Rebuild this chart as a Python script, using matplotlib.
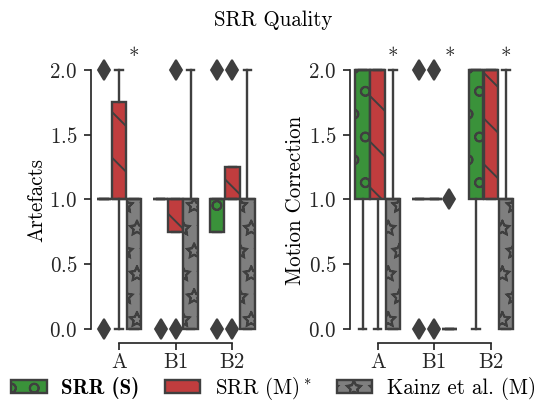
import colorsys
import matplotlib
matplotlib.use("Agg")
import matplotlib.pyplot as plt
import matplotlib.hatch as mhatch
from matplotlib.patches import Patch
from matplotlib.font_manager import FontProperties
import matplotlib.colors as mcolors

# hollow star hatch (as in the reference)
mhatch.Stars.filled = False

plt.rcParams['font.family'] = 'serif'
plt.rcParams['font.serif'] = ['cmr10']
plt.rcParams['mathtext.fontset'] = 'cm'
plt.rcParams['axes.formatter.use_mathtext'] = True
plt.rcParams['font.size'] = 11

# ---------------- data ----------------
categories = ['A', 'B1', 'B2']
methods = ['SRR (S)', 'SRR (M)$^*$', 'Kainz et al. (M)']
base_colors = ['tab:green', 'tab:red', 'tab:gray']
hatches = ['o', '\\', '*']

# box stats per category: (whislo, q1, med, q3, whishi)
art_srr_s = [(1, 1, 1, 1, 1), (1, 1, 1, 1, 1), (0.75, 0.75, 1, 1, 1)]
art_srr_s_fliers = [[0, 2], [0], [0, 2]]
art_srr_m = [(0, 1, 1, 1.75, 2), (0.75, 0.75, 1, 1, 1), (1, 1, 1, 1.25, 1.25)]
art_srr_m_fliers = [[], [0, 2], [0, 2]]
art_kainz = [(0, 0, 1, 1, 1), (0, 0, 1, 1, 2), (0, 0, 1, 1, 2)]
art_kainz_fliers = [[], [], []]
art_signif = [True, False, False]

mot_srr_s = [(0, 1, 2, 2, 2), (1, 1, 1, 1, 1), (0, 1, 2, 2, 2)]
mot_srr_s_fliers = [[], [0, 2], []]
mot_srr_m = [(0, 1, 2, 2, 2), (1, 1, 1, 1, 1), (1, 1, 2, 2, 2)]
mot_srr_m_fliers = [[], [0, 2], []]
mot_kainz = [(0, 0, 1, 1, 2), (0, 0, 0, 0, 0), (0, 0, 1, 1, 2)]
mot_kainz_fliers = [[], [1], []]
mot_signif = [True, True, True]

yticks = [0.0, 0.5, 1.0, 1.5, 2.0]


def desaturate(c, prop=0.75):
    r, g, b = mcolors.to_rgb(c)
    h, l, s = colorsys.rgb_to_hls(r, g, b)
    return colorsys.hls_to_rgb(h, l, s * prop)


colors = [desaturate(c) for c in base_colors]
line_col = '#3f3f3f'
lw = 1.25

DPI = 137
fig = plt.figure(figsize=(547 / DPI, 401 / DPI), dpi=DPI)
W, H = 547, 401
ax1 = fig.add_axes([90.75 / W, 58 / H, 169.75 / W, 286 / H])
ax2 = fig.add_axes([349.5 / W, 58 / H, 169.75 / W, 286 / H])

width = 0.8 / 3


def draw(ax, groups, signif, ylabel):
    for j, (boxes, fliers) in enumerate(groups):
        stats = []
        pos = []
        for i, (b, f) in enumerate(zip(boxes, fliers)):
            stats.append(dict(whislo=b[0], q1=b[1], med=b[2], q3=b[3], whishi=b[4], fliers=f))
            pos.append(i + (j - 1) * width)
        ax.bxp(stats, positions=pos, widths=width * 0.97, patch_artist=True,
               manage_ticks=False,
               boxprops=dict(facecolor=colors[j], edgecolor=line_col, linewidth=lw, hatch=hatches[j]),
               whiskerprops=dict(color=line_col, linewidth=lw),
               capprops=dict(color=line_col, linewidth=lw),
               medianprops=dict(color=line_col, linewidth=lw),
               flierprops=dict(marker='d', markerfacecolor=line_col, markeredgecolor=line_col,
                               markersize=7.5, linestyle='none'))
    for i, s in enumerate(signif):
        if s:
            ax.text(i + width, 2.05, '*', ha='center', va='baseline', fontsize=11,
                    color='#222222', clip_on=False)
    ax.set_xlim(-0.5, 2.5)
    ax.set_ylim(-0.108, 2.1)
    ax.set_xticks(range(len(categories)))
    ax.set_xticklabels(categories)
    ax.set_yticks(yticks)
    ax.set_ylabel(ylabel, labelpad=1.5)
    for sp in ['top', 'right']:
        ax.spines[sp].set_visible(False)
    ax.spines['left'].set_bounds(0, 2)
    ax.spines['bottom'].set_bounds(0, 2)
    for sp in ['left', 'bottom']:
        ax.spines[sp].set_color('.15')
        ax.spines[sp].set_linewidth(0.9)
    ax.tick_params(colors='.15', length=3.5, width=0.9)
    ax.tick_params(axis='x', pad=1.5)


draw(ax1, [(art_srr_s, art_srr_s_fliers), (art_srr_m, art_srr_m_fliers),
           (art_kainz, art_kainz_fliers)], art_signif, 'Artefacts')
draw(ax2, [(mot_srr_s, mot_srr_s_fliers), (mot_srr_m, mot_srr_m_fliers),
           (mot_kainz, mot_kainz_fliers)], mot_signif, 'Motion Correction')

fig.suptitle('SRR Quality', y=0.975, fontsize=11)

handles = [Patch(facecolor=colors[j], edgecolor=line_col, hatch=hatches[j], linewidth=lw)
           for j in range(3)]
leg = fig.legend(handles, methods, loc='lower center', bbox_to_anchor=(0.5, -0.05), ncol=3,
                 frameon=False, handlelength=1.7, handleheight=0.6, handletextpad=0.7,
                 columnspacing=1.2)
leg.get_texts()[0].set_fontproperties(FontProperties(family='cmb10', size=11))

fig.savefig('out.png', dpi=DPI)
